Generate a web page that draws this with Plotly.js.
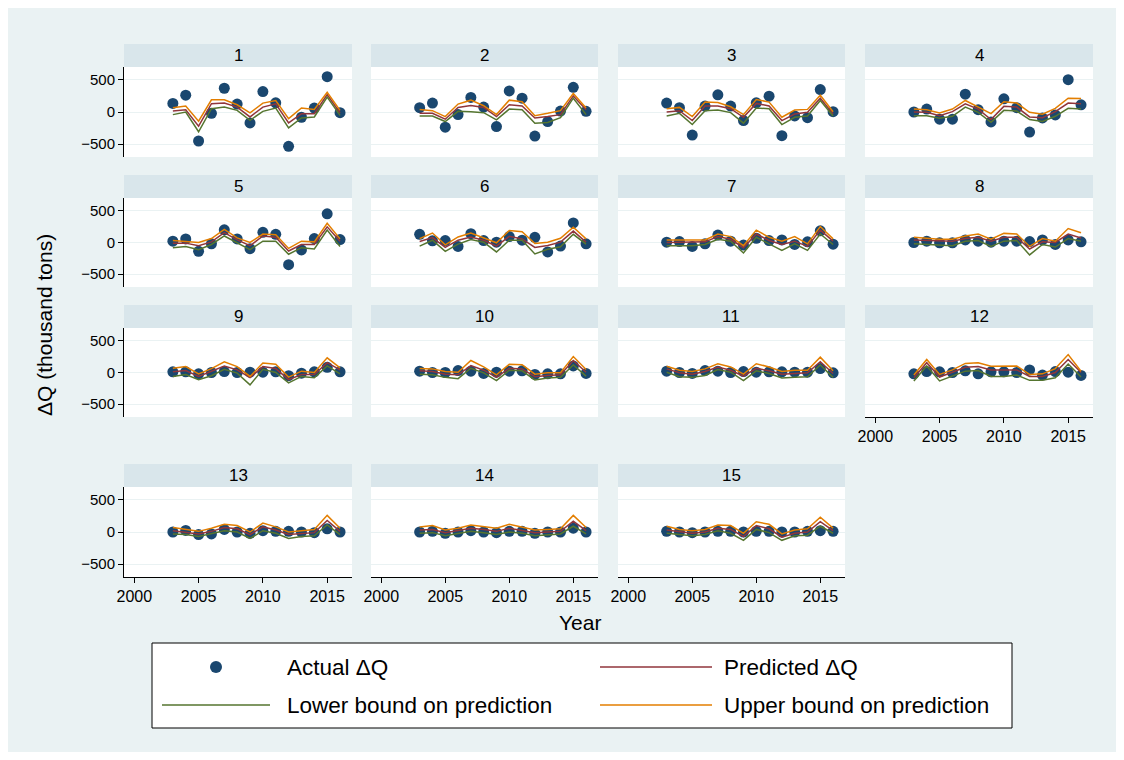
<!DOCTYPE html>
<html>
<head>
<meta charset="utf-8">
<script src="https://cdn.plot.ly/plotly-3.0.1.min.js"></script>
<style>html,body{margin:0;padding:0;background:#fff;}#chart{width:1124px;height:760px;}</style>
</head>
<body>
<div id="chart"></div>
<script>
const years = [2003,2004,2005,2006,2007,2008,2009,2010,2011,2012,2013,2014,2015,2016];
const panelLabels = ['1','2','3','4','5','6','7','8','9','10','11','12','13','14','15'];
const xTickVals = [2000,2005,2010,2015];
const yTickVals = [-500,0,500];

const actual = [
  [134,263,-453,-21,371,124,-170,319,144,-536,-82,62,551,-10],
  [67,139,-237,-41,227,77,-227,330,216,-376,-149,15,386,10],
  [139,67,-360,93,268,93,-134,144,247,-370,-62,-88,350,5],
  [0,46,-113,-113,278,36,-155,206,67,-314,-93,-46,505,113],
  [21,57,-139,-21,201,57,-98,160,129,-350,-118,62,453,46],
  [129,26,31,-62,139,31,5,93,36,82,-149,-57,309,-21],
  [5,15,-62,-21,118,21,-41,67,31,41,-31,10,185,-26],
  [0,21,-5,-5,41,21,5,21,21,15,41,-31,41,10],
  [10,10,-21,0,15,0,5,5,10,-51,-10,10,82,10],
  [21,0,0,31,21,-15,5,21,26,-31,-21,-21,103,-15],
  [21,0,-15,31,21,0,15,5,10,10,5,5,62,-5],
  [-21,15,10,0,26,-21,10,10,0,41,-41,15,5,-46],
  [0,25,-40,-30,40,0,-20,20,10,10,0,-10,50,0],
  [0,10,-20,0,20,0,-10,10,10,-20,0,0,60,0],
  [10,0,-10,0,10,10,0,10,10,0,0,10,20,10]
];
const predicted = [
  [15,36,-221,129,139,77,-77,77,129,-170,-26,-26,273,-15],
  [-21,-21,-113,72,103,72,-72,113,93,-93,-72,-41,252,36],
  [0,21,-134,93,93,51,-82,134,93,-134,-31,-5,216,-31],
  [0,-5,-57,5,129,46,-118,88,77,-77,-88,5,139,129],
  [-10,-10,-51,10,155,41,-51,103,82,-134,-31,-31,247,21],
  [15,77,-77,36,88,36,-57,98,57,-77,-46,5,180,5],
  [0,0,0,10,93,51,-82,134,31,-31,21,-62,196,21],
  [41,31,21,21,62,82,21,82,82,-103,10,0,134,72],
  [10,31,-62,21,103,41,-82,93,62,-113,-31,-31,155,41],
  [26,15,-26,-36,108,36,-77,67,57,-67,-46,-36,190,5],
  [57,-5,-26,15,88,36,-57,67,26,-26,-15,-5,170,-15],
  [-82,155,-72,0,82,93,41,41,41,-62,-62,0,206,0],
  [20,0,-30,10,70,50,-40,80,30,-40,-20,-10,180,10],
  [30,40,-10,20,60,40,10,60,30,-10,0,10,170,20],
  [30,0,-20,0,60,40,-70,100,50,-80,-20,0,160,20]
];
const lowerBound = [
  [-41,0,-309,52,77,26,-129,10,62,-247,-93,-77,232,-52],
  [-62,-62,-149,10,5,-10,-124,46,36,-175,-165,-88,216,-41],
  [-62,-21,-196,21,31,-10,-175,62,51,-196,-82,-62,180,-62],
  [-57,-57,-98,-67,77,-5,-160,26,15,-118,-149,-67,57,46],
  [-82,-62,-113,-31,103,0,-113,21,21,-185,-82,-103,196,-62],
  [-57,36,-139,-26,46,5,-149,36,36,-180,-108,-67,129,-26],
  [-51,-51,-51,-31,51,21,-165,82,-21,-124,-21,-124,134,-31],
  [-21,-31,-51,-51,21,31,-62,21,31,-196,-31,-72,62,21],
  [-62,-31,-113,-51,51,-10,-196,51,0,-165,-62,-82,103,-21],
  [-26,-36,-77,-98,67,-5,-129,36,26,-118,-88,-77,118,-57],
  [5,-67,-77,-46,46,5,-129,26,-15,-88,-77,-67,118,-77],
  [-134,103,-134,-51,21,31,-62,-62,-41,-124,-124,-82,134,-72],
  [-30,-40,-70,-30,20,0,-100,20,-20,-100,-70,-60,110,-40],
  [-20,-10,-60,-20,10,-10,-40,0,-20,-60,-40,-30,90,-30],
  [-20,-40,-60,-40,20,-20,-130,40,-10,-130,-60,-50,90,-20]
];
const upperBound = [
  [67,93,-144,190,190,113,-15,139,180,-103,62,41,309,26],
  [41,21,-72,124,185,98,-41,185,160,-57,-21,21,288,62],
  [51,72,-72,155,149,82,-41,196,155,-82,31,41,263,5],
  [46,36,-15,46,180,77,-26,160,139,-5,-36,57,216,211],
  [31,21,0,62,206,72,0,134,124,-93,21,10,304,57],
  [62,149,-36,88,149,77,-5,191,170,-15,5,67,242,57],
  [41,41,41,41,134,93,-51,196,82,21,93,-21,252,57],
  [82,62,51,51,103,134,51,144,134,-62,62,21,221,155],
  [67,93,-21,62,170,93,-62,149,129,-72,21,0,232,72],
  [62,57,15,5,190,88,-36,129,124,-26,-5,-5,252,46],
  [98,36,15,57,139,88,-26,139,88,15,36,36,242,26],
  [-41,206,-31,41,144,155,98,103,103,-31,-21,62,283,21],
  [70,40,10,60,120,100,0,140,80,0,20,40,260,60],
  [80,100,30,60,110,90,60,120,80,30,40,50,260,70],
  [90,40,20,40,110,100,-20,160,120,-30,30,50,230,60]
];

const W = 1124, H = 760;
const colPx = [[124,352],[371,598],[618,845],[865,1093]];
const rowPx = [[67,157],[198,287],[328,417],[487,577]];
const HDR = 23;
const FONT = 'Liberation Sans, Arial, sans-serif';
const C_ACT = '#1a476f', C_PRED = '#90353b', C_LOW = '#55752f', C_UP = '#e37e00';
const BG = '#eaf2f3', STRIP = '#d9e6eb';
const px = v => v / W, py = v => 1 - v / H;

const traces = [];
const layout = {
  width: W, height: H,
  margin: {l:0, r:0, t:0, b:0},
  paper_bgcolor: BG, plot_bgcolor: '#ffffff',
  showlegend: false,
  font: {family: FONT, color: '#000'},
  shapes: [], annotations: []
};

panelLabels.forEach((lab, i) => {
  const r = Math.floor(i / 4), c = i % 4;
  const n = i === 0 ? '' : String(i + 1);
  const xa = 'x' + n, ya = 'y' + n;
  const [x0, x1] = colPx[c], [y0, y1] = rowPx[r];
  const showX = (i >= 11);
  const showY = (c === 0);
  layout['xaxis' + n] = {
    domain: [px(x0), px(x1)], range: [1999.2, 2016.93], anchor: ya,
    showgrid: false, zeroline: false,
    showline: showX, linecolor: '#000', linewidth: 1,
    ticks: showX ? 'outside' : '', ticklen: 5, tickcolor: '#000',
    tickvals: xTickVals, showticklabels: showX,
    tickfont: {size: 16, family: FONT, color: '#000'}, fixedrange: true
  };
  layout['yaxis' + n] = {
    domain: [py(y1), py(y0)], range: [-703, 703], anchor: xa,
    showgrid: true, gridcolor: BG, gridwidth: 1, zeroline: false,
    showline: showY, linecolor: '#000', linewidth: 1,
    ticks: showY ? 'outside' : '', ticklen: 5, tickcolor: '#000',
    tickvals: yTickVals, showticklabels: showY,
    tickfont: {size: 15, family: FONT, color: '#000'}, fixedrange: true
  };
  layout.shapes.push({type:'rect', xref:'paper', yref:'paper', layer:'below',
    x0: px(x0), x1: px(x1), y0: py(y0), y1: py(y0 - HDR),
    fillcolor: STRIP, line: {width: 0}});
  layout.annotations.push({xref:'paper', yref:'paper', x: px((x0 + x1) / 2), y: py(y0 - HDR / 2),
    text: lab, showarrow: false, font: {size: 17, family: FONT, color: '#000'},
    xanchor: 'center', yanchor: 'middle'});

  traces.push({type:'scatter', mode:'markers', x: years, y: actual[i], xaxis: xa, yaxis: ya,
    marker: {color: C_ACT, size: 11, line: {width: 0}}, name: 'Actual ΔQ', hoverinfo: 'skip'});
  traces.push({type:'scatter', mode:'lines', x: years, y: predicted[i], xaxis: xa, yaxis: ya,
    line: {color: C_PRED, width: 1.5}, name: 'Predicted ΔQ', hoverinfo: 'skip'});
  traces.push({type:'scatter', mode:'lines', x: years, y: lowerBound[i], xaxis: xa, yaxis: ya,
    line: {color: C_LOW, width: 1.5}, name: 'Lower bound on prediction', hoverinfo: 'skip'});
  traces.push({type:'scatter', mode:'lines', x: years, y: upperBound[i], xaxis: xa, yaxis: ya,
    line: {color: C_UP, width: 1.5}, name: 'Upper bound on prediction', hoverinfo: 'skip'});
});

[[0,0,W,8],[0,H-8,W,H],[0,0,8,H],[W-8,0,W,H]].forEach(b => {
  layout.shapes.push({type:'rect', xref:'paper', yref:'paper', layer:'below',
    x0: px(b[0]), x1: px(b[2]), y0: py(b[3]), y1: py(b[1]), fillcolor:'#ffffff', line:{width:0}});
});

layout.annotations.push({xref:'paper', yref:'paper', x: px(45), y: py(325), text: 'ΔQ (thousand tons)',
  textangle: -90, showarrow: false, font: {size: 21, family: FONT, color: '#000'}, xanchor:'center', yanchor:'middle'});
layout.annotations.push({xref:'paper', yref:'paper', x: px(580), y: py(622), text: 'Year',
  showarrow: false, font: {size: 21, family: FONT, color: '#000'}, xanchor:'center', yanchor:'middle'});

layout.shapes.push({type:'rect', xref:'paper', yref:'paper', layer:'below',
  x0: px(152), x1: px(1012), y0: py(728), y1: py(643), fillcolor:'#ffffff', line:{color:'#000', width:1}});
const legendItems = [
  {label:'Actual ΔQ', kind:'marker', color:C_ACT, kx0:162, kx1:270, ky:667, tx:285},
  {label:'Predicted ΔQ', kind:'line', color:C_PRED, kx0:600, kx1:712, ky:667, tx:722},
  {label:'Lower bound on prediction', kind:'line', color:C_LOW, kx0:162, kx1:270, ky:705, tx:285},
  {label:'Upper bound on prediction', kind:'line', color:C_UP, kx0:600, kx1:712, ky:705, tx:722}
];
legendItems.forEach(it => {
  if (it.kind === 'marker') {
    const cx = (it.kx0 + it.kx1) / 2;
    layout.shapes.push({type:'circle', xref:'paper', yref:'paper',
      x0: px(cx - 6), x1: px(cx + 6), y0: py(it.ky + 6), y1: py(it.ky - 6),
      fillcolor: it.color, line: {width: 0}});
  } else {
    layout.shapes.push({type:'line', xref:'paper', yref:'paper',
      x0: px(it.kx0), x1: px(it.kx1), y0: py(it.ky), y1: py(it.ky),
      line: {color: it.color, width: 1.5}});
  }
  layout.annotations.push({xref:'paper', yref:'paper', x: px(it.tx), y: py(it.ky), text: it.label,
    showarrow: false, xanchor:'left', yanchor:'middle', font: {size: 22.5, family: FONT, color: '#000'}});
});

Plotly.newPlot('chart', traces, layout, {staticPlot: true, displayModeBar: false});
</script>
</body>
</html>
